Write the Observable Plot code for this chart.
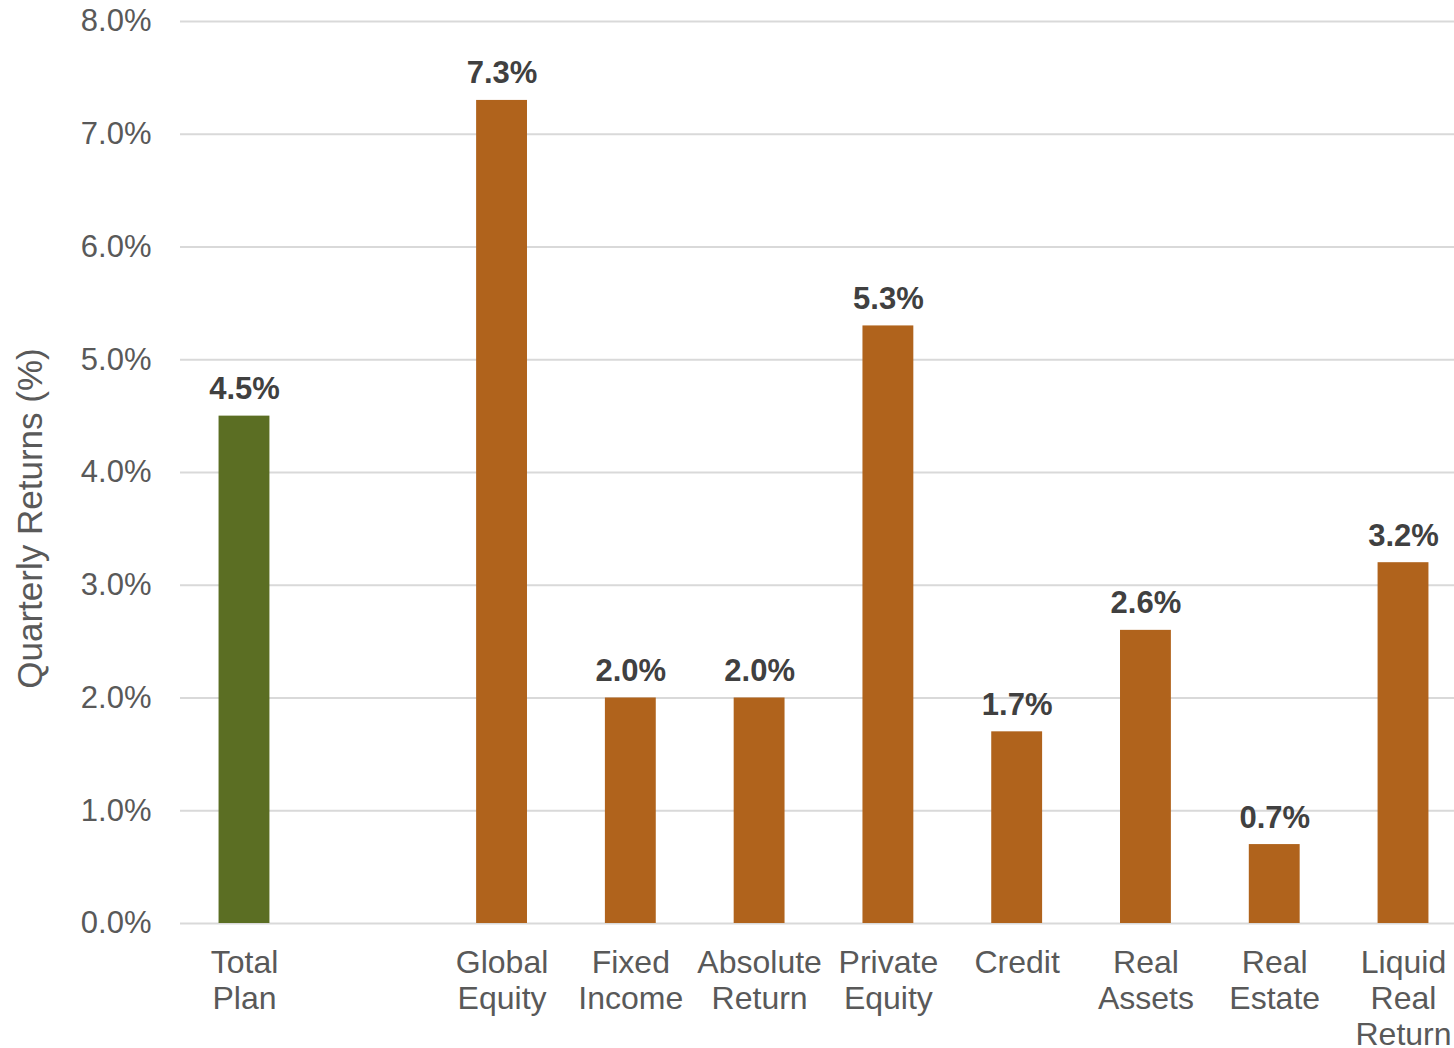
<!DOCTYPE html>
<html>
<head>
<meta charset="utf-8">
<script src="https://cdn.jsdelivr.net/npm/d3@7"></script>
<script src="https://cdn.jsdelivr.net/npm/@observablehq/plot@0.6"></script>
<style>
  html, body { margin: 0; padding: 0; background: #fff; }
  #chart { width: 1454px; height: 1048px; }
  svg { font-family: "Liberation Sans", Arial, sans-serif; }
</style>
</head>
<body>
<div id="chart"></div>
<script>
// Category slots (the blank slot reproduces the gap after Total Plan)
const slots = ["Total\nPlan", " ", "Global\nEquity", "Fixed\nIncome", "Absolute\nReturn", "Private\nEquity", "Credit", "Real\nAssets", "Real\nEstate", "Liquid\nReal\nReturn"];
// Bars
const categories = ["Total\nPlan", "Global\nEquity", "Fixed\nIncome", "Absolute\nReturn", "Private\nEquity", "Credit", "Real\nAssets", "Real\nEstate", "Liquid\nReal\nReturn"];
const returns = [4.5, 7.3, 2.0, 2.0, 5.3, 1.7, 2.6, 0.7, 3.2];
const groups = ["plan", "asset", "asset", "asset", "asset", "asset", "asset", "asset", "asset"];
const yTicks = [0, 1, 2, 3, 4, 5, 6, 7, 8];
const yTitle = "Quarterly Returns (%)";

const data = categories.map((c, i) => ({category: c, value: returns[i], group: groups[i]}));

const chart = Plot.plot({
  width: 1454,
  height: 1048,
  marginLeft: 180,
  marginRight: 0,
  marginTop: 21,
  marginBottom: 125,
  style: {fontFamily: "Liberation Sans, Arial, sans-serif", background: "#fff"},
  x: {domain: slots, range: [179.6, 1467.4], round: false, paddingInner: 0.605, paddingOuter: 0.3025, label: null},
  y: {domain: [0, 8], label: null},
  color: {domain: ["plan", "asset"], range: ["#5B6E23", "#B0631C"]},
  marks: [
    Plot.gridY(yTicks, {stroke: "#D9D9D9", strokeOpacity: 1, strokeWidth: 2}),
    Plot.barY(data, {x: "category", y: "value", fill: "group"}),
    Plot.text(data, {x: "category", y: "value", text: d => d.value.toFixed(1) + "%",
      lineAnchor: "bottom", dy: -17, fontSize: 31, fontWeight: "bold", fill: "#404040"}),
    Plot.axisY(yTicks, {tickSize: 0, tickPadding: 29, fontSize: 31, fill: "#595959",
      tickFormat: d => d.toFixed(1) + "%", label: null}),
    Plot.axisX({tickSize: 0, tickPadding: 24, fontSize: 32, fill: "#595959", lineHeight: 1.125,
      label: null, tickFormat: d => d}),
    Plot.text([yTitle], {frameAnchor: "top-left", dx: -150, dy: 497, rotate: -90,
      textAnchor: "middle", lineAnchor: "middle", fontSize: 35, fill: "#595959", text: d => d})
  ]
});
document.getElementById("chart").appendChild(chart);
</script>
</body>
</html>
